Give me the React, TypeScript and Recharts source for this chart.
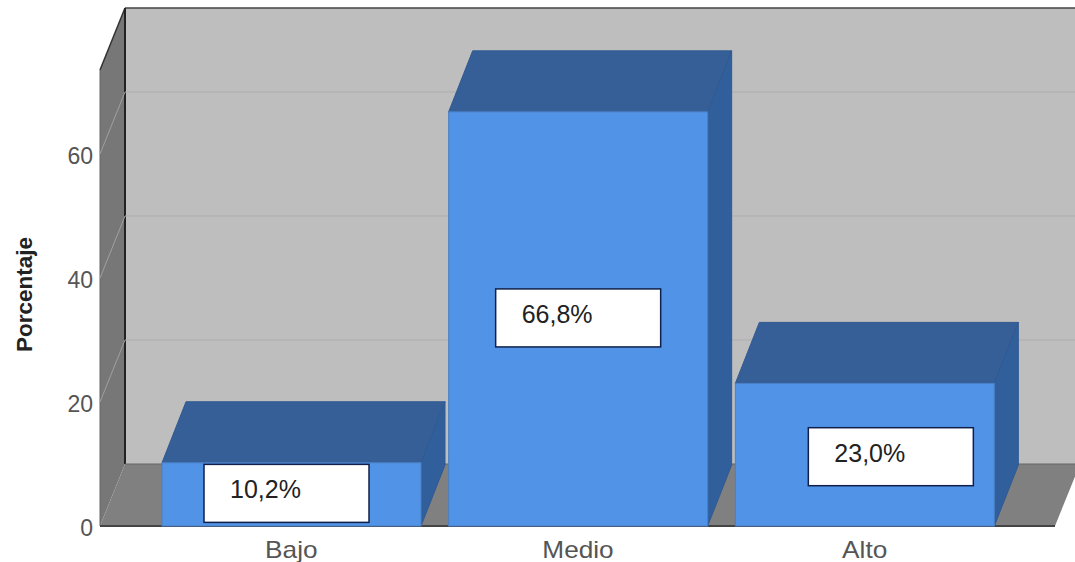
import { Bar, BarChart, LabelList, ReferenceArea, ReferenceLine, XAxis, YAxis } from "recharts";

const categories = ["Bajo", "Medio", "Alto"];
const values = [10.2, 66.8, 23.0];
const yTicks = [0, 20, 40, 60];
const gridTicks = [20, 40, 60];
const labelShiftX = [-5, 0, 26];
const labelShiftY = [0, 0, 3];

const yMax = 73.55;
const depthX = 25;
const depthY = -62;
const barDepthX = 24;
const barDepthY = -61;
const padLeft = 48;
const padRight = 47;
const font = "'Liberation Sans', Arial, sans-serif";

const data = categories.map((name, i) => ({ name, value: values[i] }));

const Walls = (props: any) => {
	const { x, y, width, height } = props;
	const left = x - padLeft;
	const right = x + width + padRight;
	const bottom = y + height;
	const bx = left + depthX;
	return (
		<g>
			<rect x={bx} y={y + depthY} width={right - left} height={height} fill="#bebebe" />
			<polygon
				points={`${left},${y} ${bx},${y + depthY} ${bx},${bottom + depthY} ${left},${bottom}`}
				fill="#777777"
			/>
			<polygon
				points={`${left},${bottom} ${bx},${bottom + depthY} ${right + depthX},${bottom + depthY} ${right},${bottom}`}
				fill="#808080"
			/>
			<line x1={left} y1={y} x2={bx} y2={y + depthY} stroke="#333" strokeWidth={1.5} />
			<line x1={bx} y1={y + depthY} x2={right + depthX} y2={y + depthY} stroke="#444" strokeWidth={1.5} />
			<line x1={bx} y1={y + depthY} x2={bx} y2={bottom + depthY} stroke="#222" strokeWidth={2} />
			<line x1={left} y1={y} x2={left} y2={bottom} stroke="#666" strokeWidth={1} />
			<line x1={bx} y1={bottom + depthY} x2={right + depthX} y2={bottom + depthY} stroke="#666" strokeWidth={1} />
			<line x1={left} y1={bottom} x2={right} y2={bottom} stroke="#444" strokeWidth={2} />
		</g>
	);
};

const WallGridLine = (props: any) => {
	const { x1, x2, y1 } = props;
	return (
		<g>
			<line x1={x1} y1={y1} x2={x1 + depthX} y2={y1 + depthY} stroke="#a0a0a0" strokeWidth={1} />
			<line x1={x1 + depthX} y1={y1 + depthY} x2={x2 + depthX} y2={y1 + depthY} stroke="#adadad" strokeWidth={1} />
		</g>
	);
};

const Bar3D = (props: any) => {
	const { x, y, width, height } = props;
	const r = x + width;
	return (
		<g>
			<polygon
				points={`${x},${y} ${x + barDepthX},${y + barDepthY} ${r + barDepthX},${y + barDepthY} ${r},${y}`}
				fill="#365f97"
				stroke="#2f5a92"
			/>
			<polygon
				points={`${r},${y} ${r + barDepthX},${y + barDepthY} ${r + barDepthX},${y + height + barDepthY} ${r},${y + height}`}
				fill="#305f9c"
				stroke="#2f5a92"
			/>
			<rect x={x} y={y} width={width} height={height} fill="#5193e6" stroke="#4a7fc4" />
		</g>
	);
};

const ValueBox = (props: any) => {
	const { x, y, width, height, value, index } = props;
	const boxW = 165;
	const boxH = 58;
	const bx = x + width / 2 - boxW / 2 + labelShiftX[index];
	const by = y + height / 2 - boxH / 2 - 1 + labelShiftY[index];
	return (
		<g>
			<rect x={bx} y={by} width={boxW} height={boxH} fill="#fff" stroke="#10204a" strokeWidth={1.5} />
			<text x={bx + 26} y={by + 34} fontFamily={font} fontSize={25} fill="#222">
				{value.toFixed(1).replace(".", ",") + "%"}
			</text>
		</g>
	);
};

const CategoryTick = (props: any) => {
	const { x, payload } = props;
	return (
		<text
			transform={`translate(${x},558) scale(1.14,1)`}
			textAnchor="middle"
			fontFamily={font}
			fontSize={23}
			fill="#555"
		>
			{payload.value}
		</text>
	);
};

export default function App() {
	return (
		<div style={{ position: "absolute", left: 0, top: 0, width: 1075, height: 562 }}>
			<BarChart
				width={1075}
				height={562}
				data={data}
				margin={{ top: 70, right: 20, left: 0, bottom: 0 }}
			>
				<ReferenceArea y1={0} y2={yMax} shape={Walls} />
				{gridTicks.map((t) => (
					<ReferenceLine key={t} y={t} shape={WallGridLine} zIndex={100} />
				))}
				<XAxis
					dataKey="name"
					height={36}
					padding={{ left: padLeft, right: padRight }}
					axisLine={false}
					tickLine={false}
					tick={CategoryTick}
				/>
				<YAxis
					width={100}
					domain={[0, yMax]}
					ticks={yTicks}
					axisLine={false}
					tickLine={false}
					tickMargin={1}
					tick={{ fontFamily: font, fontSize: 23, fill: "#555", dy: 2 }}
					label={{
						value: "Porcentaje",
						angle: -90,
						position: "insideLeft",
						offset: 24,
						dy: 54,
						style: { fontFamily: font, fontSize: 22.5, fontWeight: "bold", fill: "#222" },
					}}
				/>
				<Bar dataKey="value" barSize={259} shape={Bar3D} isAnimationActive={false}>
					<LabelList dataKey="value" content={ValueBox} />
				</Bar>
			</BarChart>
		</div>
	);
}
